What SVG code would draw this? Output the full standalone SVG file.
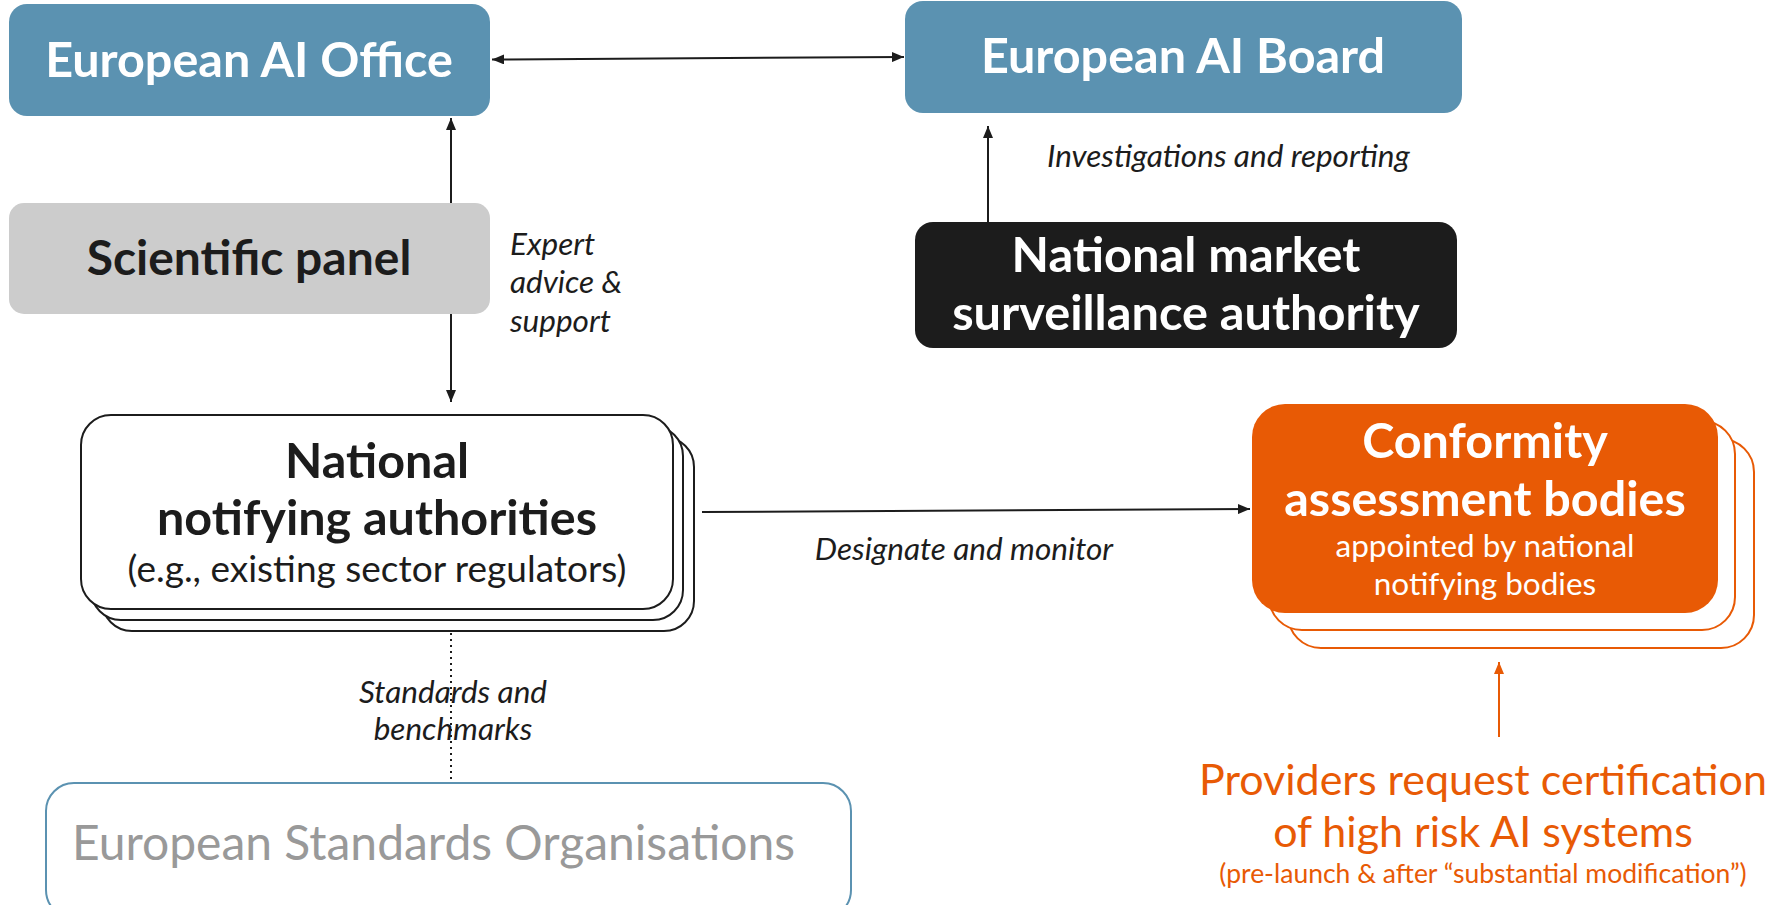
<svg xmlns="http://www.w3.org/2000/svg" width="1779" height="905" viewBox="0 0 1779 905">
  <style>
    .bold { font-family: Lato, "Open Sans", "Liberation Sans", sans-serif; font-weight: 700; text-anchor: middle; }
    .reg { font-family: Lato, "Open Sans", "Liberation Sans", sans-serif; font-weight: 400; }
    .lbl { font-family: Lato, "Open Sans", "Liberation Sans", sans-serif; font-style: italic; font-size: 31.5px; fill: #1c1c1c; }
    .white { fill: #ffffff; }
    .dark { fill: #1c1c1c; }
    .orange { fill: #e85a05; }
    .conn { stroke: #1c1c1c; stroke-width: 2; fill: none; }
    .stack { fill: #ffffff; stroke: #1c1c1c; stroke-width: 2; }
    .ostack { fill: #ffffff; stroke: #e85a05; stroke-width: 2; }
  </style>
  <defs>
    <marker id="arrow" viewBox="0 0 12 10" refX="12" refY="5" markerWidth="12" markerHeight="10" markerUnits="userSpaceOnUse" orient="auto-start-reverse">
      <path d="M0,0 L12,5 L0,10 Z" fill="#1c1c1c"/>
    </marker>
    <marker id="arrow-orange" viewBox="0 0 12 10" refX="12" refY="5" markerWidth="12" markerHeight="10" markerUnits="userSpaceOnUse" orient="auto">
      <path d="M0,0 L12,5 L0,10 Z" fill="#e85a05"/>
    </marker>
  </defs>

  <!-- connectors -->
  <g id="connectors">
    <line class="conn" x1="492" y1="59.5" x2="904" y2="57" marker-start="url(#arrow)" marker-end="url(#arrow)"/>
    <line class="conn" x1="451" y1="118" x2="451" y2="402" marker-start="url(#arrow)" marker-end="url(#arrow)"/>
    <line class="conn" x1="988" y1="222" x2="988" y2="126" marker-end="url(#arrow)"/>
    <line class="conn" x1="702" y1="512" x2="1250" y2="509" marker-end="url(#arrow)"/>
    <line class="conn" x1="451" y1="633" x2="451" y2="779" stroke-dasharray="2 4"/>
    <line x1="1499" y1="737" x2="1499" y2="662" stroke="#e85a05" stroke-width="2" marker-end="url(#arrow-orange)"/>
    <text class="lbl" x="1047" y="167">Investigations and reporting</text>
    <text class="lbl" x="510" y="255" font-size="32.5">Expert</text>
    <text class="lbl" x="510" y="293" font-size="32.5">advice &amp;</text>
    <text class="lbl" x="510" y="332" font-size="32.5">support</text>
    <text class="lbl" x="964" y="560" text-anchor="middle">Designate and monitor</text>
    <text class="lbl" x="453" y="703" text-anchor="middle" font-size="32.5">Standards and</text>
    <text class="lbl" x="453" y="740" text-anchor="middle" font-size="32.5">benchmarks</text>
  </g>

  <g id="ai-office">
    <rect x="9" y="4" width="481" height="112" rx="18" fill="#5b92b1"/>
    <text class="bold white" x="249" y="77" font-size="48.5">European AI Office</text>
  </g>

  <g id="ai-board">
    <rect x="905" y="1" width="557" height="112" rx="18" fill="#5b92b1"/>
    <text class="bold white" x="1183" y="73" font-size="48.5">European AI Board</text>
  </g>

  <g id="scientific-panel">
    <rect x="9" y="203" width="481" height="111" rx="15" fill="#cccccc"/>
    <text class="bold dark" x="249" y="275" font-size="48">Scientific panel</text>
  </g>

  <g id="market-surveillance">
    <rect x="915" y="222" width="542" height="126" rx="18" fill="#1c1c1c"/>
    <text class="bold white" x="1186" y="272" font-size="48.7">National market</text>
    <text class="bold white" x="1186" y="330" font-size="48.7">surveillance authority</text>
  </g>

  <g id="notifying-authorities">
    <rect class="stack" x="102" y="437" width="592" height="194" rx="30"/>
    <rect class="stack" x="91" y="426" width="592" height="194" rx="30"/>
    <rect class="stack" x="81" y="415" width="592" height="194" rx="30"/>
    <text class="bold dark" x="377" y="478" font-size="48.5">National</text>
    <text class="bold dark" x="377" y="535" font-size="48.5">notifying authorities</text>
    <text class="reg dark" x="377" y="582" font-size="37" text-anchor="middle">(e.g., existing sector regulators)</text>
  </g>

  <g id="conformity-bodies">
    <rect class="ostack" x="1288" y="439" width="466" height="209" rx="33"/>
    <rect class="ostack" x="1269" y="421" width="466" height="209" rx="33"/>
    <rect x="1252" y="404" width="466" height="209" rx="33" fill="#e85a05"/>
    <text class="bold white" x="1485" y="458" font-size="48.5">Conformity</text>
    <text class="bold white" x="1485" y="516" font-size="48.5">assessment bodies</text>
    <text class="reg white" x="1485" y="557" font-size="31.5" text-anchor="middle">appointed by national</text>
    <text class="reg white" x="1485" y="595" font-size="31.5" text-anchor="middle">notifying bodies</text>
  </g>

  <g id="standards-organisations">
    <rect x="46" y="783" width="805" height="135" rx="28" fill="#ffffff" stroke="#5b92b1" stroke-width="2"/>
    <text class="reg" x="72" y="860" font-size="48" fill="#999999">European Standards Organisations</text>
  </g>

  <g id="providers">
    <text class="reg orange" x="1483" y="795" font-size="43" text-anchor="middle">Providers request certification</text>
    <text class="reg orange" x="1483" y="847" font-size="43" text-anchor="middle">of high risk AI systems</text>
    <text class="reg orange" x="1483" y="883" font-size="26.5" text-anchor="middle">(pre-launch &amp; after “substantial modification”)</text>
  </g>
</svg>
